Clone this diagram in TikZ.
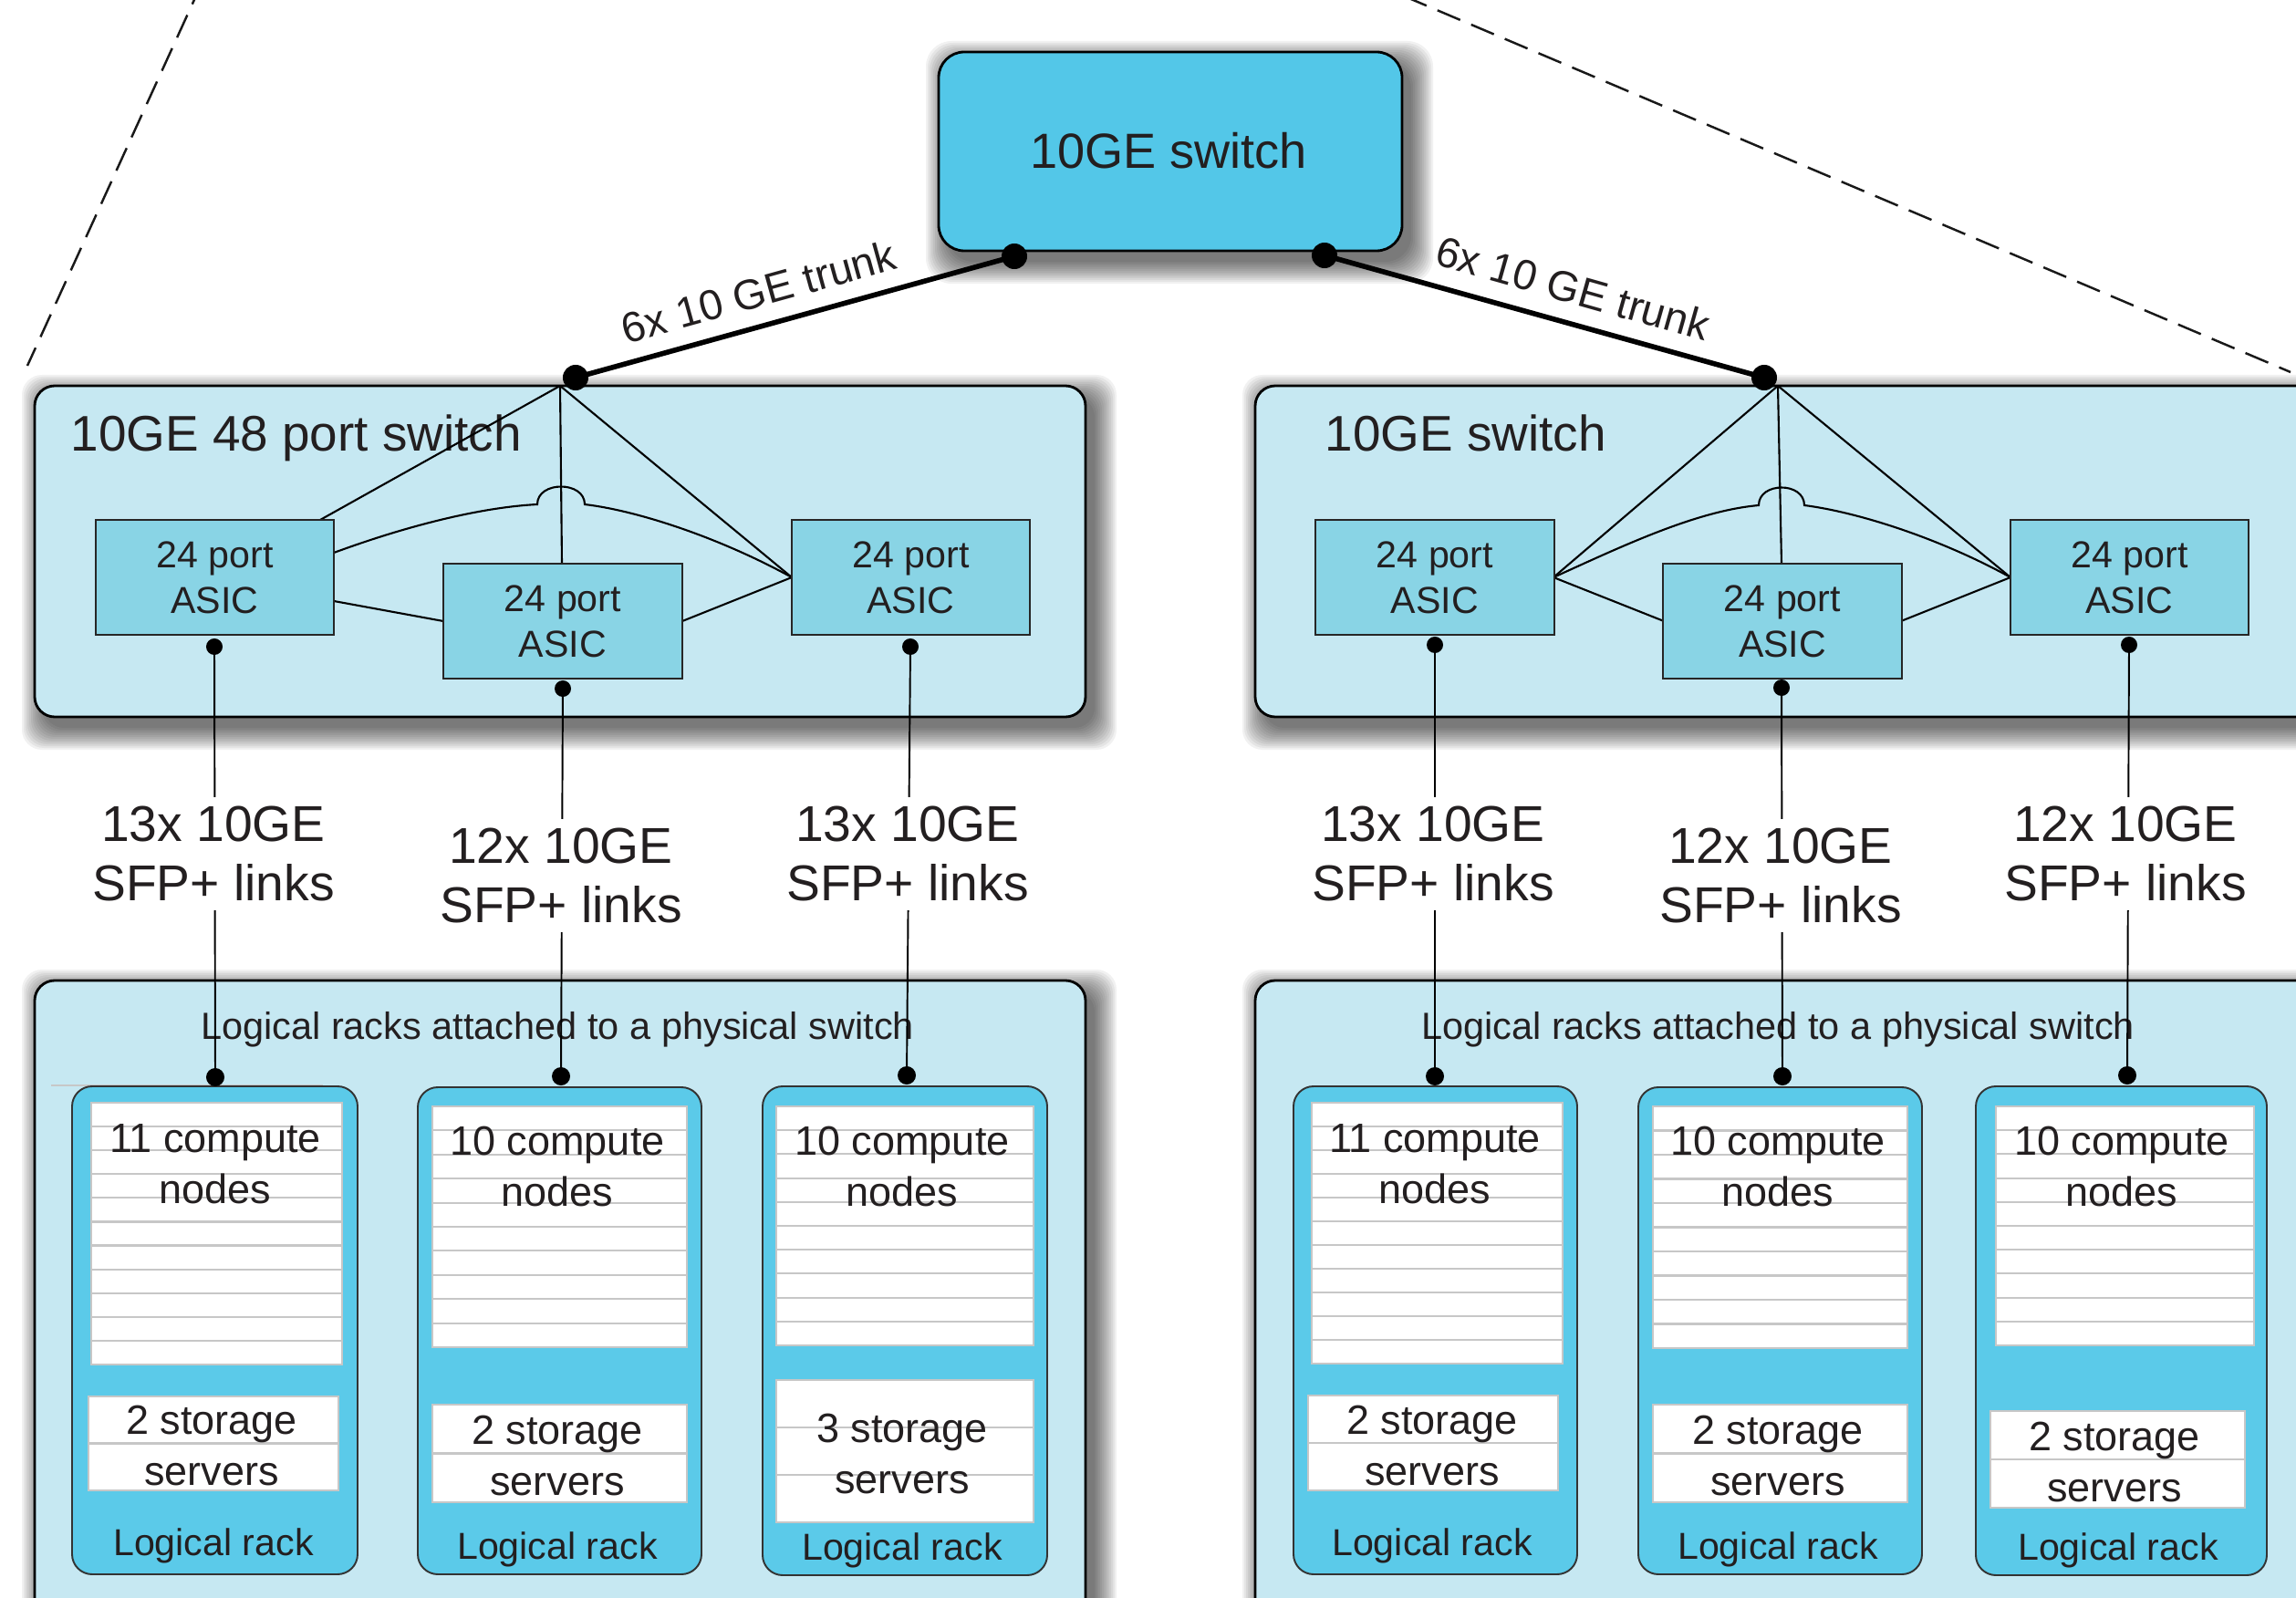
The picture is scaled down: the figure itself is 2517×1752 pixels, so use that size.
\documentclass[tikz,border=0pt]{standalone}
\usepackage{fontspec}
\setmainfont{Liberation Sans}
\usetikzlibrary{fit,calc}
\definecolor{topfill}{HTML}{53C7E8}
\definecolor{swfill}{HTML}{C6E8F2}
\definecolor{asicfill}{HTML}{89D4E5}
\definecolor{rackfill}{HTML}{5BCAE9}
\definecolor{ink}{HTML}{231F20}
\newcommand\fsTop{\fontsize{15.4}{18}\selectfont}
\newcommand\fsSw{\fontsize{15.6}{18}\selectfont}
\newcommand\fsLk{\fontsize{15.7}{18.4}\selectfont}
\newcommand\fsTr{\fontsize{13.2}{16}\selectfont}
\newcommand\fsAs{\fontsize{11.7}{14.2}\selectfont}
\newcommand\fsLr{\fontsize{11.8}{14}\selectfont}
\newcommand\fsCp{\fontsize{12.8}{16.0}\selectfont}
\newcommand\fsRk{\fontsize{11.7}{14}\selectfont}
% soft shadow: x1 y1 x2 y2 radius
\newcommand\softshadow[5]{%
  \foreach \i in {0,...,12}{%
    \fill[black,opacity=0.055,rounded corners=#5]
      ({#1+10-\i*2.0},{#2+12-\i*2.0}) rectangle ({#3+10+\i*2.0},{#4+12+\i*2.0});
  }}
% stacked slots: x1 y1 x2 y2 n
\newcommand\slotstack[5]{%
  \pgfmathsetmacro\slh{(#4-#2)/#5}%
  \foreach \k in {1,...,#5}{%
    \path[slot] (#1,{#2+(\k-1)*\slh}) rectangle (#3,{#2+\k*\slh});
  }}
\begin{document}
\begin{tikzpicture}[x=0.01cm,y=-0.01cm,
  every node/.style={text=ink},
  topbox/.style={draw=black, line width=0.8pt, fill=topfill, rounded corners=0.28cm, inner sep=0pt},
  swbox/.style={draw=black, line width=0.8pt, fill=swfill, rounded corners=0.22cm, inner sep=0pt},
  asicbox/.style={draw=black!85, line width=0.6pt, fill=asicfill, minimum width=2.61cm, minimum height=1.26cm, inner sep=0pt, align=center, font=\fsAs},
  rackbox/.style={draw=black!80, line width=0.55pt, fill=rackfill, rounded corners=0.22cm, inner sep=0pt},
  slot/.style={draw=black!22, line width=0.6pt, fill=white},
  wire/.style={draw=black, line width=0.6pt},
  trunk/.style={draw=black, line width=1.6pt},
  linkwire/.style={draw=black, line width=0.55pt},
  dashline/.style={draw=black!90, line width=0.7pt, dash pattern=on 7.7pt off 3.7pt},
  linklbl/.style={fill=white, inner sep=3pt, align=center, font=\fsLk},
  comptxt/.style={align=center, font=\fsCp},
  racktxt/.style={font=\fsRk},
]
\useasboundingbox (0,0) rectangle (2517,1752);
\clip (0,0) rectangle (2517,1752);

% dashed guide lines
\coordinate (dla) at (222,-20);
\coordinate (dlb) at (30,401);
\coordinate (dra) at (1502,-20);
\coordinate (drb) at (2511,408);
\draw[dashline] (dla) -- (dlb);
\draw[dashline] (dra) -- (drb);

% shadows
\softshadow{1029}{57}{1537}{275}{0.28cm}
\softshadow{38}{423}{1190}{786}{0.22cm}
\softshadow{1376}{423}{2560}{786}{0.22cm}
\softshadow{38}{1075}{1190}{1800}{0.22cm}
\softshadow{1376}{1075}{2560}{1800}{0.22cm}

% main boxes
\node[topbox, fit={(1029,57) (1537,275)}] (topsw) {};
\node[swbox, fit={(38,423) (1190,786)}] (lsw) {};
\node[swbox, fit={(1376,423) (2560,786)}] (rsw) {};
\node[swbox, fit={(38,1075) (1190,1800)}] (lbot) {};
\node[swbox, fit={(1376,1075) (2560,1800)}] (rbot) {};

\node[font=\fsTop] (toplbl) at (1281,165) {10GE switch};
\node[font=\fsSw, anchor=base west, inner sep=0pt] (lswlbl) at (77,495) {10GE 48 port switch};
\node[font=\fsSw, anchor=base west, inner sep=0pt] (rswlbl) at (1452,495) {10GE switch};

% ASIC positions
\coordinate (lAc) at (235.5,633);
\coordinate (lBc) at (617,681);
\coordinate (lCc) at (998.5,633);
\coordinate (rAc) at (1573,633);
\coordinate (rBc) at (1954,681);
\coordinate (rCc) at (2334.5,633);

% internal wiring, left switch
\coordinate (lhub) at (614,423);
\coordinate (lAtop) at (351,570);
\coordinate (lAe1) at (366,606);
\coordinate (lAe2) at (366,659);
\coordinate (lBtop) at (616,618);
\coordinate (lBw) at (486,681);
\coordinate (lBe) at (748,681);
\coordinate (lCw) at (868,633);
\draw[wire] (lhub) -- (lAtop);
\draw[wire] (lhub) -- (lBtop);
\draw[wire] (lhub) -- (lCw);
\draw[wire] (lAe2) -- (lBw);
\draw[wire] (lBe) -- (lCw);
\draw[wire] (lAe1) .. controls (450,575) and (530,556) .. (589,553)
  .. controls (589,527) and (641,527) .. (641,553)
  .. controls (700,560) and (790,590) .. (lCw);

% internal wiring, right switch
\coordinate (rhub) at (1949,423);
\coordinate (rAe) at (1703,633);
\coordinate (rBtop) at (1953,618);
\coordinate (rBw) at (1824,681);
\coordinate (rBe) at (2084,681);
\coordinate (rCw) at (2204,633);
\draw[wire] (rhub) -- (rAe);
\draw[wire] (rhub) -- (rBtop);
\draw[wire] (rhub) -- (rCw);
\draw[wire] (rAe) -- (rBw);
\draw[wire] (rBe) -- (rCw);
\draw[wire] (rAe) .. controls (1780,598) and (1860,560) .. (1928,554)
  .. controls (1928,528) and (1978,528) .. (1978,554)
  .. controls (2040,562) and (2130,592) .. (rCw);

% ASIC boxes
\node[asicbox] (lA) at (lAc) {24 port\\ASIC};
\node[asicbox] (lB) at (lBc) {24 port\\ASIC};
\node[asicbox] (lC) at (lCc) {24 port\\ASIC};
\node[asicbox] (rA) at (rAc) {24 port\\ASIC};
\node[asicbox] (rB) at (rBc) {24 port\\ASIC};
\node[asicbox] (rC) at (rCc) {24 port\\ASIC};

% trunks
\coordinate (tL) at (1112,281);
\coordinate (tR) at (1452,280);
\coordinate (sL) at (631,414);
\coordinate (sR) at (1934,414);
\draw[trunk] (tL) -- (sL);
\draw[trunk] (tR) -- (sR);
\foreach \p in {tL,tR,sL,sR} \fill[black] (\p) circle[radius=0.14cm];
\node[font=\fsTr, rotate=15.5, anchor=base] (ltrunk) at (836,336) {6x 10 GE trunk};
\node[font=\fsTr, rotate=-15.8, anchor=base] (rtrunk) at (1720,332) {6x 10 GE trunk};

% bottom containers text
\node[font=\fsLr] (lbotlbl) at (611,1129) {Logical racks attached to a physical switch};
\node[font=\fsLr] (rbotlbl) at (1949,1129) {Logical racks attached to a physical switch};

% racks
\draw[black!22, line width=0.5pt] (56,1190) -- (354,1190);
\node[rackbox, fit={(79,1191) (392,1726)}] (r1) {};
\node[rackbox, fit={(458,1192) (769,1726)}] (r2) {};
\node[rackbox, fit={(836,1191) (1148,1727)}] (r3) {};
\node[rackbox, fit={(1418,1191) (1729,1726)}] (r4) {};
\node[rackbox, fit={(1796,1192) (2107,1726)}] (r5) {};
\node[rackbox, fit={(2166,1191) (2485,1727)}] (r6) {};

\slotstack{100}{1209}{375}{1496}{11}
\slotstack{97}{1531}{371}{1634}{2}
\slotstack{474}{1213}{753}{1477}{10}
\slotstack{474}{1540}{753}{1647}{2}
\slotstack{851}{1213}{1133}{1475}{10}
\slotstack{851}{1513}{1133}{1669}{3}
\slotstack{1438}{1209}{1713}{1495}{11}
\slotstack{1434}{1530}{1708}{1634}{2}
\slotstack{1812}{1213}{2091}{1478}{10}
\slotstack{1812}{1540}{2091}{1647}{2}
\slotstack{2188}{1213}{2471}{1475}{10}
\slotstack{2182}{1547}{2461}{1653}{2}

\node[comptxt] (c1) at (236,1276) {11 compute\\nodes};
\node[comptxt] (s1) at (232,1585) {2 storage\\servers};
\node[racktxt] (k1) at (234,1695) {Logical rack};
\node[comptxt] (c2) at (611,1279) {10 compute\\nodes};
\node[comptxt] (s2) at (611,1596) {2 storage\\servers};
\node[racktxt] (k2) at (611,1699) {Logical rack};
\node[comptxt] (c3) at (989,1279) {10 compute\\nodes};
\node[comptxt] (s3) at (989,1594) {3 storage\\servers};
\node[racktxt] (k3) at (989,1700) {Logical rack};
\node[comptxt] (c4) at (1573,1276) {11 compute\\nodes};
\node[comptxt] (s4) at (1570,1585) {2 storage\\servers};
\node[racktxt] (k4) at (1570,1695) {Logical rack};
\node[comptxt] (c5) at (1949,1279) {10 compute\\nodes};
\node[comptxt] (s5) at (1949,1596) {2 storage\\servers};
\node[racktxt] (k5) at (1949,1699) {Logical rack};
\node[comptxt] (c6) at (2326,1279) {10 compute\\nodes};
\node[comptxt] (s6) at (2318,1603) {2 storage\\servers};
\node[racktxt] (k6) at (2322,1700) {Logical rack};

% link wires
\coordinate (u1) at (235,709);  \coordinate (v1) at (236,1181);
\coordinate (u2) at (617,755);  \coordinate (v2) at (615,1180);
\coordinate (u3) at (998,709);  \coordinate (v3) at (994,1179);
\coordinate (u4) at (1573,707); \coordinate (v4) at (1573,1180);
\coordinate (u5) at (1953,754); \coordinate (v5) at (1954,1180);
\coordinate (u6) at (2334,707); \coordinate (v6) at (2332,1179);
\foreach \n in {1,...,6}{
  \draw[linkwire] (u\n) -- (v\n);
  \fill[black] (u\n) circle[radius=0.09cm];
  \fill[black] (v\n) circle[radius=0.10cm];
}

% link labels
\node[linklbl] (lk1) at (234,936) {13x 10GE\\SFP+ links};
\node[linklbl] (lk2) at (615,960) {12x 10GE\\SFP+ links};
\node[linklbl] (lk3) at (995,936) {13x 10GE\\SFP+ links};
\node[linklbl] (lk4) at (1571,936) {13x 10GE\\SFP+ links};
\node[linklbl] (lk5) at (1952,960) {12x 10GE\\SFP+ links};
\node[linklbl] (lk6) at (2330,936) {12x 10GE\\SFP+ links};
\end{tikzpicture}
\end{document}
